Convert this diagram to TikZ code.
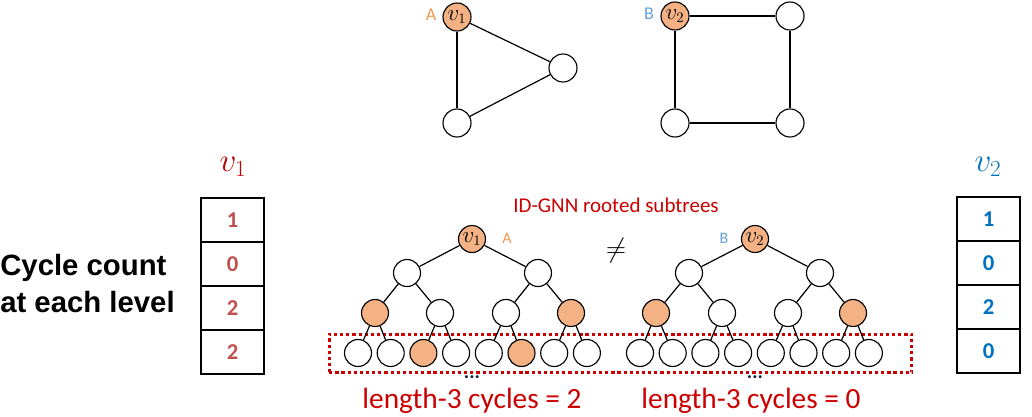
\documentclass[tikz,border=0pt]{standalone}
\usepackage{fontspec}
\setmainfont{Carlito}
\newfontfamily\arialfont{Liberation Sans}
\definecolor{nodefill}{HTML}{F4B183}
\definecolor{aorange}{RGB}{240,150,80}
\definecolor{bblue}{RGB}{100,160,220}
\definecolor{redtext}{RGB}{204,0,0}
\definecolor{vonered}{HTML}{C00000}
\definecolor{numred}{HTML}{C0504D}
\definecolor{vblue}{HTML}{0070C0}
\definecolor{dotnavy}{RGB}{20,30,60}
\begin{document}
\begin{tikzpicture}[x=0.75pt,y=-0.75pt,
  gnode/.style={circle,draw=black,line width=0.85pt,minimum size=21pt,inner sep=0pt,fill=white},
  tnode/.style={circle,draw=black,line width=0.85pt,minimum size=20.25pt,inner sep=0pt,fill=white},
  hl/.style={fill=nodefill},
  edge/.style={line width=0.9pt},
  vin/.style={font=\fontsize{16}{16}\selectfont},
  cell/.style={draw,line width=1.1pt,minimum width=47.25pt,minimum height=33pt,inner sep=0pt,font=\fontsize{17}{17}\selectfont\bfseries},
  redcell/.style={cell,text=numred},
  bluecell/.style={cell,text=vblue},
  lenlabel/.style={text=redtext,font=\fontsize{22}{22}\selectfont,inner sep=0pt},
  dotslabel/.style={text=dotnavy,font=\fontsize{15}{15}\selectfont\bfseries,inner sep=0pt},
]
\useasboundingbox (0,0) rectangle (1032,417);

% ---------- top graphs ----------
\node[gnode,hl,vin] (gv1) at (457,17) {$v_1$};
\node[gnode] (ga2) at (563,68) {};
\node[gnode] (ga3) at (457,123) {};
\draw[edge] (gv1) -- (ga2);
\draw[edge] (gv1) -- (ga3);
\draw[edge] (ga3) -- (ga2);
\node[text=aorange,font=\fontsize{13.5}{13.5}\selectfont] (lblA) at (431,15) {A};

\node[gnode,hl,vin] (gv2) at (675,16) {$v_2$};
\node[gnode] (gb2) at (790,16) {};
\node[gnode] (gb3) at (675,123) {};
\node[gnode] (gb4) at (790,123) {};
\draw[edge] (gv2) -- (gb2);
\draw[edge] (gv2) -- (gb3);
\draw[edge] (gb2) -- (gb4);
\draw[edge] (gb3) -- (gb4);
\node[text=bblue,font=\fontsize{13.5}{13.5}\selectfont] (lblB) at (649,14) {B};

% ---------- title ----------
\node[text=redtext,font=\fontsize{15.75}{16}\selectfont] (title) at (616,205) {ID-GNN rooted subtrees};

% ---------- dotted box ----------
\node[draw=redtext,line width=2.4pt,dash pattern=on 2.4pt off 2.2pt,minimum width=437pt,minimum height=29pt,inner sep=0pt] (dotbox) at (620.5,353.5) {};

% ---------- tree A ----------
\node[tnode,hl,vin] (ar) at (472,239) {$v_1$};
\node[tnode] (a1) at (407,273) {};
\node[tnode] (a2) at (538,273) {};
\node[tnode,hl] (a11) at (375,313) {};
\node[tnode] (a12) at (440,313) {};
\node[tnode] (a21) at (506,313) {};
\node[tnode,hl] (a22) at (571,313) {};
\node[tnode] (a30) at (358.0,353) {};
\node[tnode] (a31) at (390.7,353) {};
\node[tnode,hl] (a32) at (423.4,353) {};
\node[tnode] (a33) at (456.1,353) {};
\node[tnode] (a34) at (488.8,353) {};
\node[tnode,hl] (a35) at (521.5,353) {};
\node[tnode] (a36) at (554.2,353) {};
\node[tnode] (a37) at (586.9,353) {};
\draw[edge] (ar) -- (a1);
\draw[edge] (ar) -- (a2);
\draw[edge] (a1) -- (a11);
\draw[edge] (a1) -- (a12);
\draw[edge] (a2) -- (a21);
\draw[edge] (a2) -- (a22);
\draw[edge] (a11) -- (a30);
\draw[edge] (a11) -- (a31);
\draw[edge] (a12) -- (a32);
\draw[edge] (a12) -- (a33);
\draw[edge] (a21) -- (a34);
\draw[edge] (a21) -- (a35);
\draw[edge] (a22) -- (a36);
\draw[edge] (a22) -- (a37);
\node[text=aorange,font=\fontsize{12}{12}\selectfont] (tlblA) at (507,238) {A};

% ---------- tree B ----------
\node[tnode,hl,vin] (br) at (755,239) {$v_2$};
\node[tnode] (b1) at (689,273) {};
\node[tnode] (b2) at (820,273) {};
\node[tnode,hl] (b11) at (656,313) {};
\node[tnode] (b12) at (722,313) {};
\node[tnode] (b21) at (788,313) {};
\node[tnode,hl] (b22) at (853,313) {};
\node[tnode] (b30) at (640.0,353) {};
\node[tnode] (b31) at (672.7,353) {};
\node[tnode] (b32) at (705.4,353) {};
\node[tnode] (b33) at (738.1,353) {};
\node[tnode] (b34) at (770.8,353) {};
\node[tnode] (b35) at (803.5,353) {};
\node[tnode] (b36) at (836.2,353) {};
\node[tnode] (b37) at (868.9,353) {};
\draw[edge] (br) -- (b1);
\draw[edge] (br) -- (b2);
\draw[edge] (b1) -- (b11);
\draw[edge] (b1) -- (b12);
\draw[edge] (b2) -- (b21);
\draw[edge] (b2) -- (b22);
\draw[edge] (b11) -- (b30);
\draw[edge] (b11) -- (b31);
\draw[edge] (b12) -- (b32);
\draw[edge] (b12) -- (b33);
\draw[edge] (b21) -- (b34);
\draw[edge] (b21) -- (b35);
\draw[edge] (b22) -- (b36);
\draw[edge] (b22) -- (b37);
\node[text=bblue,font=\fontsize{12}{12}\selectfont] (tlblB) at (724,238) {B};

\node[font=\fontsize{21}{21}\selectfont] (neq) at (616,251) {$\neq$};

% ---------- bottom labels ----------
\node[dotslabel] (dotsA) at (472,377) {...};
\node[dotslabel] (dotsB) at (755,377) {...};
\node[lenlabel] (lenA) at (472,401) {length-3 cycles = 2};
\node[lenlabel] (lenB) at (751,401) {length-3 cycles = 0};

% ---------- left vector ----------
\node[text=vonered,font=\fontsize{23}{23}\selectfont] (v1lab) at (233,167) {$v_1$};
\node[redcell] (c1) at (232.5,220) {1};
\node[redcell] (c2) at (232.5,264) {0};
\node[redcell] (c3) at (232.5,308) {2};
\node[redcell] (c4) at (232.5,352) {2};
\node[font=\arialfont\bfseries\fontsize{22}{27.75}\selectfont,align=left,anchor=west,inner sep=0pt] (cc) at (0,284) {Cycle count\\at each level};

% ---------- right vector ----------
\node[text=vblue,font=\fontsize{23}{23}\selectfont] (v2lab) at (988,167) {$v_2$};
\node[bluecell] (d1) at (988.5,219) {1};
\node[bluecell] (d2) at (988.5,263) {0};
\node[bluecell] (d3) at (988.5,307) {2};
\node[bluecell] (d4) at (988.5,351) {0};
\end{tikzpicture}
\end{document}
